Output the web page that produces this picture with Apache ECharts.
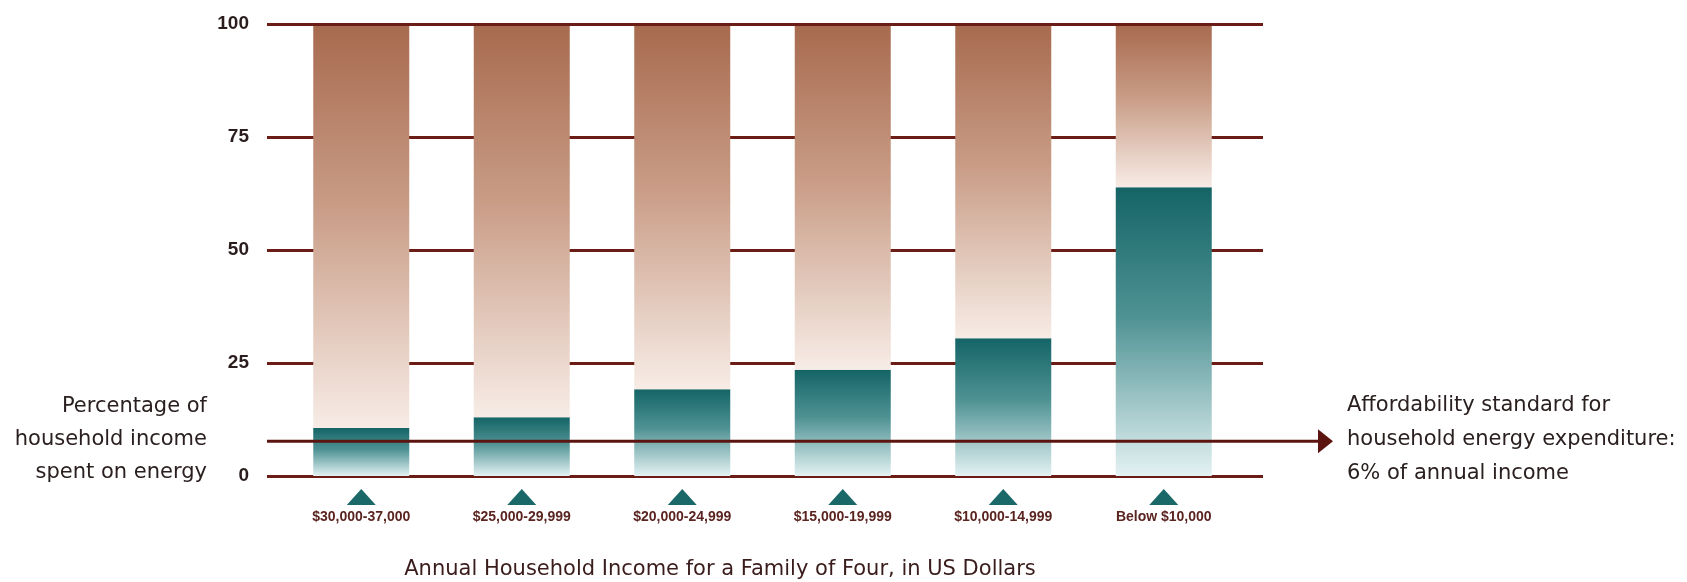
<!DOCTYPE html>
<html>
<head>
<meta charset="utf-8">
<script src="https://cdn.jsdelivr.net/npm/echarts@6/dist/echarts.min.js"></script>
<style>
  html, body { margin: 0; padding: 0; background: #fff; }
  #chart { width: 1687px; height: 582px; }
</style>
</head>
<body>
<div id="chart"></div>
<script>
// income groups, left to right
const categories = ['$30,000-37,000', '$25,000-29,999', '$20,000-24,999', '$15,000-19,999', '$10,000-14,999', 'Below $10,000'];
// share of household income spent on energy (%)
const energyShare = [10.6, 13.0, 19.2, 23.5, 30.5, 63.9];
// y ticks
const yTicks = [0, 25, 50, 75, 100];
// level of the affordability arrow as drawn in the picture
const standardLevel = 7.7;

const rest = energyShare.map(v => 100 - v);
const markers = categories.map(() => 0);

const lineColor = '#6b1c14';
const labelFont = "'Liberation Sans Narrow', 'Liberation Sans', Arial, sans-serif";

const chart = echarts.init(document.getElementById('chart'));

const option = {
  animation: false,
  grid: [
    { left: 267, right: 424, top: 24, height: 452 },  // gridlines + y labels
    { left: 281, right: 443, top: 24, height: 452 },  // bars
    { left: 281, right: 443, top: 489, height: 16 }   // triangle markers
  ],
  xAxis: [
    { gridIndex: 0, type: 'value', min: 0, max: 1, show: false },
    {
      gridIndex: 1,
      type: 'category',
      data: categories,
      axisLine: { show: false },
      axisTick: { show: false },
      axisLabel: {
        margin: 34,
        fontSize: 14,
        fontWeight: 'bold',
        fontFamily: labelFont,
        color: '#5a2420'
      }
    },
    { gridIndex: 2, type: 'category', data: categories, show: false }
  ],
  yAxis: [
    {
      gridIndex: 0,
      type: 'value',
      min: 0,
      max: 100,
      interval: 25,
      axisLine: { show: false },
      axisTick: { show: false },
      axisLabel: {
        margin: 18,
        fontSize: 19,
        fontWeight: 'bold',
        fontFamily: labelFont,
        color: '#2b1d1d',
        formatter: v => (yTicks.indexOf(v) >= 0 ? String(v) : '')
      },
      splitLine: { lineStyle: { color: lineColor, width: 3 } }
    },
    { gridIndex: 1, type: 'value', min: 0, max: 100, show: false },
    { gridIndex: 2, type: 'value', min: -1, max: 1, show: false }
  ],
  series: [
    {
      type: 'bar',
      xAxisIndex: 1,
      yAxisIndex: 1,
      stack: 'col',
      barWidth: 96,
      data: energyShare,
      itemStyle: {
        color: new echarts.graphic.LinearGradient(0, 0, 0, 1, [
          { offset: 0, color: '#146466' },
          { offset: 0.45, color: '#4f9294' },
          { offset: 1, color: '#e4f2f3' }
        ])
      }
    },
    {
      type: 'bar',
      xAxisIndex: 1,
      yAxisIndex: 1,
      stack: 'col',
      barWidth: 96,
      data: rest,
      itemStyle: {
        color: new echarts.graphic.LinearGradient(0, 0, 0, 1, [
          { offset: 0, color: '#a76a4e' },
          { offset: 0.45, color: '#c99c86' },
          { offset: 1, color: '#f7ece6' }
        ])
      },
      markLine: {
        silent: true,
        symbol: 'none',
        label: { show: false },
        lineStyle: { color: lineColor, width: 3, type: 'solid' },
        data: [{ yAxis: 100 }]
      }
    },
    {
      type: 'scatter',
      xAxisIndex: 2,
      yAxisIndex: 2,
      symbol: 'triangle',
      symbolSize: [29, 16],
      data: markers,
      itemStyle: { color: '#1b6869', opacity: 1 }
    }
  ]
};

chart.setOption(option);

// affordability arrow and text notes
const yStd = chart.convertToPixel({ yAxisIndex: 0 }, standardLevel);
chart.setOption({
  graphic: [
    {
      type: 'line',
      shape: { x1: 267, y1: yStd, x2: 1320, y2: yStd },
      style: { stroke: '#5c1410', lineWidth: 3 },
      z: 10
    },
    {
      type: 'polygon',
      shape: { points: [[1318, yStd - 12], [1333, yStd], [1318, yStd + 12]] },
      style: { fill: '#5c1410' },
      z: 10
    },
    {
      type: 'text',
      x: 207,
      y: 440,
      style: {
        text: 'Percentage of\nhousehold income\nspent on energy',
        font: "21px 'DejaVu Sans', sans-serif",
        fill: '#2b2020',
        align: 'right',
        verticalAlign: 'middle',
        lineHeight: 33
      }
    },
    {
      type: 'text',
      x: 1347,
      y: 440,
      style: {
        text: 'Affordability standard for\nhousehold energy expenditure:\n6% of annual income',
        font: "21px 'DejaVu Sans', sans-serif",
        fill: '#2b2020',
        align: 'left',
        verticalAlign: 'middle',
        lineHeight: 34
      }
    },
    {
      type: 'text',
      x: 720,
      y: 570,
      style: {
        text: 'Annual Household Income for a Family of Four, in US Dollars',
        font: "21px 'DejaVu Sans', sans-serif",
        fill: '#3a1c1c',
        align: 'center',
        verticalAlign: 'middle'
      }
    }
  ]
});
</script>
</body>
</html>
